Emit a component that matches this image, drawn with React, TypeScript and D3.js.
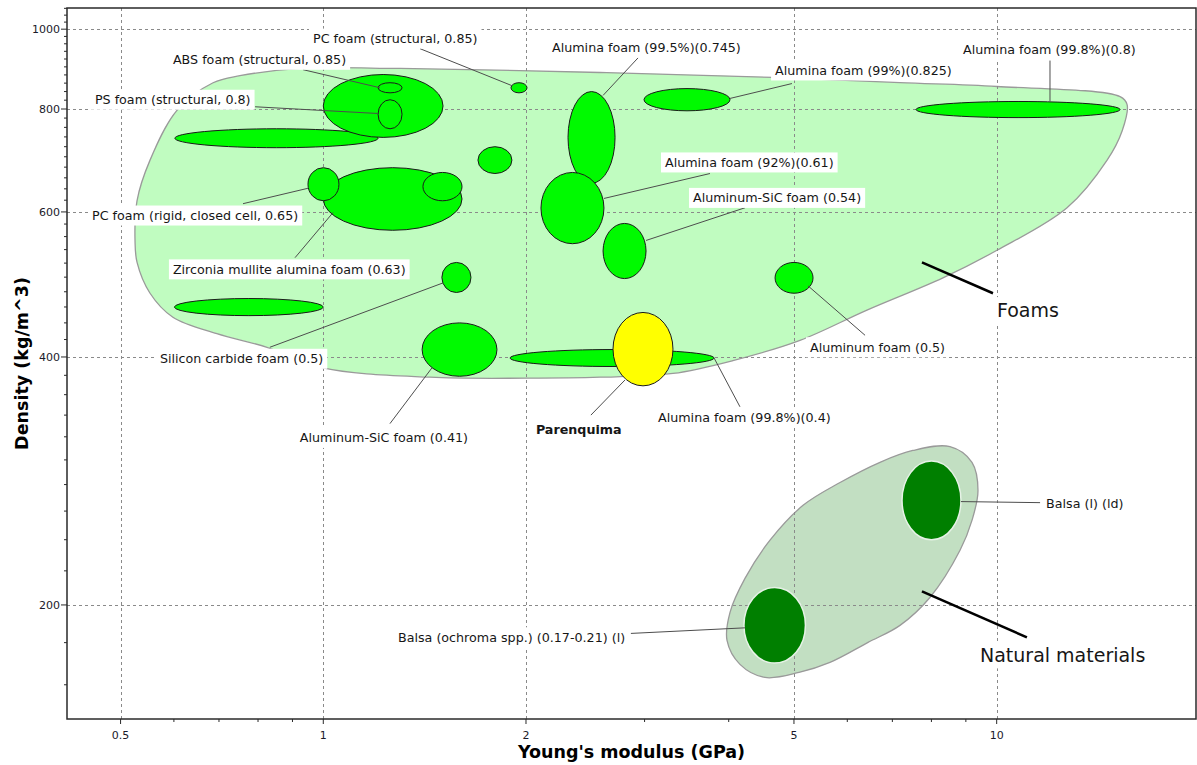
import React, { useEffect, useRef } from 'react';
import * as d3 from 'd3';

// ---------- Data (Young's modulus in GPa, density in kg/m^3) ----------
const materials = [
  'Foam (unlabelled A)',
  'Foam (unlabelled B)',
  'ABS foam (structural, 0.85)',
  'PS foam (structural, 0.8)',
  'PC foam (structural, 0.85)',
  'Zirconia mullite alumina foam (0.63)',
  'PC foam (rigid, closed cell, 0.65)',
  'Foam (unlabelled C)',
  'Foam (unlabelled D)',
  'Alumina foam (99.5%)(0.745)',
  'Alumina foam (92%)(0.61)',
  'Aluminum-SiC foam (0.54)',
  'Alumina foam (99%)(0.825)',
  'Alumina foam (99.8%)(0.8)',
  'Aluminum foam (0.5)',
  'Silicon carbide foam (0.5)',
  'Foam (unlabelled E)',
  'Aluminum-SiC foam (0.41)',
  'Alumina foam (99.8%)(0.4)',
  'Parenquima',
  'Balsa (l) (ld)',
  'Balsa (ochroma spp.) (0.17-0.21) (l)',
];
const modulusLow = [0.602, 1.0, 1.206, 1.206, 1.9, 1.0, 0.949, 1.406, 1.697, 2.309, 2.105, 2.603, 2.994, 7.59, 4.687, 1.5, 0.601, 1.402, 1.894, 2.693, 7.235, 4.214];
const modulusHigh = [1.206, 1.506, 1.309, 1.309, 2.007, 1.607, 1.055, 1.607, 1.906, 2.712, 2.611, 3.015, 4.018, 15.25, 5.337, 1.657, 1.0, 1.811, 3.804, 3.306, 8.85, 5.2];
const densityLow = [718, 739, 837, 757, 837, 570, 619, 619, 668, 650, 549, 498, 796, 781, 478, 479, 449, 379, 389.5, 369, 240, 170];
const densityHigh = [757, 881, 861, 821, 861, 679, 679, 670, 720, 840, 670, 581, 847, 817, 521, 521, 471, 440, 408.4, 453, 299, 210];
const family = ['foam', 'foam', 'foam', 'foam', 'foam', 'foam', 'foam', 'foam', 'foam', 'foam', 'foam', 'foam', 'foam', 'foam', 'foam', 'foam', 'foam', 'foam', 'foam', 'parenchyma', 'natural', 'natural'];

// Envelope outlines (E, rho)
const foamEnvelopeE = [0.5253, 0.5289, 0.5528, 0.6063, 0.686, 0.7519, 0.9235, 1.3, 2.576, 4.654, 7.185, 10.01, 15.25, 15.62, 15.36, 14.58, 12.72, 10.01, 8.321, 6.418, 5.104, 4.058, 3.306, 2.576, 2.007, 1.44, 0.999, 0.825, 0.695, 0.598, 0.553, 0.529];
const foamEnvelopeRho = [554, 619, 693, 797, 861, 878, 896, 896, 886, 874, 861, 852, 828, 810, 753, 693, 607, 539, 499, 456, 419, 396, 382, 378, 377, 378, 388, 411, 427, 447, 478, 521];
const naturalEnvelopeE = [7.508, 8.524, 9.19, 9.381, 9.19, 8.822, 7.959, 7.185, 6.441, 5.655, 5.087, 4.529, 4.157, 3.977, 4.018, 4.229, 4.607, 5.158, 5.853, 6.71];
const naturalEnvelopeRho = [308, 311.4, 298, 275.4, 253.3, 233, 204.2, 188.9, 180.1, 170.3, 165.6, 163.3, 169.4, 181.1, 195.9, 215.4, 239.7, 264.2, 281.6, 298];

// Material labels: text anchor (left, middle) and leader line (from label to ellipse)
const labelText = [
  'PC foam (structural, 0.85)', 'ABS foam (structural, 0.85)', 'PS foam (structural, 0.8)',
  'PC foam (rigid, closed cell, 0.65)', 'Zirconia mullite alumina foam (0.63)', 'Silicon carbide foam (0.5)',
  'Aluminum-SiC foam (0.41)', 'Parenquima', 'Alumina foam (99.8%)(0.4)', 'Aluminum foam (0.5)',
  'Balsa (l) (ld)', 'Balsa (ochroma spp.) (0.17-0.21) (l)', 'Alumina foam (99.5%)(0.745)',
  'Alumina foam (92%)(0.61)', 'Aluminum-SiC foam (0.54)', 'Alumina foam (99%)(0.825)', 'Alumina foam (99.8%)(0.8)',
];
const labelBold = [false, false, false, false, false, false, false, true, false, false, false, false, false, false, false, false, false];
const labelE = [0.9654, 0.598, 0.458, 0.4535, 0.598, 0.572, 0.923, 2.069, 3.141, 5.281, 11.84, 1.291, 2.186, 3.217, 3.54, 4.687, 8.913];
const labelRho = [974, 918, 821, 594, 511, 398, 319, 327, 338, 411, 265.6, 182.7, 950, 689, 624, 891, 944];
const leaderFromE = [1.392, 0.933, 0.792, 0.76, 0.908, 0.833, 1.256, 2.497, 4.157, 6.376, 11.6, 2.863, 2.934, 3.752, 4.229, 4.966, 12.0];
const leaderFromRho = [947, 893, 805, 614, 528, 411, 332, 340, 348, 425, 266.2, 184.7, 923, 668, 607, 859, 916];
const leaderToE = [1.906, 1.214, 1.206, 0.949, 1.034, 1.506, 1.45, 2.805, 3.804, 5.246, 8.85, 4.229, 2.603, 2.611, 3.015, 4.018, 12.0];
const leaderToRho = [854, 849, 790, 641, 599, 492, 388, 375, 399, 488, 267, 187.6, 831, 623, 554, 824, 817];

// Family labels
const familyText = ['Foams', 'Natural materials'];
const familyLabelE = [10.01, 9.445];
const familyLabelRho = [456, 173.7];
const familyLineFromE = [7.745, 7.745];
const familyLineFromRho = [521, 207.7];
const familyLineToE = [9.874, 11.09];
const familyLineToRho = [478, 182.7];

// Axes
const xDomain = [0.4163, 19.77];
const yDomain = [145.4, 1061];
const xMajorTicks = [0.5, 1, 2, 5, 10];
const xMinorTicks = [0.6, 0.7, 0.8, 0.9, 3, 4, 6, 7, 8, 9];
const yMajorTicks = [200, 400, 600, 800, 1000];
const yMinorTicks = d3.range(160, 1061, 20).filter((v) => v % 200 !== 0);

const W = 1197;
const H = 765;
const PL = 67, PR = 1196, PT = 8, PB = 719;
const FONT = '"DejaVu Sans", Verdana, sans-serif';

export default function App() {
  const ref = useRef<SVGSVGElement>(null);

  useEffect(() => {
    const svg = d3.select(ref.current);
    svg.selectAll('*').remove();

    const x = d3.scaleLog().domain(xDomain).range([PL, PR]);
    const y = d3.scaleLog().domain(yDomain).range([PB, PT]);

    svg.append('rect').attr('width', W).attr('height', H).attr('fill', '#ffffff');

    svg.append('defs').append('clipPath').attr('id', 'plotclip')
      .append('rect').attr('x', PL).attr('y', PT).attr('width', PR - PL).attr('height', PB - PT);

    const plot = svg.append('g').attr('clip-path', 'url(#plotclip)');

    const envLine = d3.line<[number, number]>()
      .x((d) => x(d[0]))
      .y((d) => y(d[1]))
      .curve(d3.curveCatmullRomClosed.alpha(0.5));

    const foamPts = foamEnvelopeE.map((e, i) => [e, foamEnvelopeRho[i]] as [number, number]);
    const natPts = naturalEnvelopeE.map((e, i) => [e, naturalEnvelopeRho[i]] as [number, number]);

    plot.append('path').attr('d', envLine(foamPts)!)
      .attr('fill', '#c0fcc0').attr('stroke', '#9a9a9a').attr('stroke-width', 1.3);
    plot.append('path').attr('d', envLine(natPts)!)
      .attr('fill', '#c2dfc2').attr('stroke', '#9a9a9a').attr('stroke-width', 1.3);

    // grid
    const grid = plot.append('g').attr('stroke', '#8a8a8a').attr('stroke-width', 1).attr('stroke-dasharray', '3,3');
    xMajorTicks.forEach((t) => {
      grid.append('line').attr('x1', Math.round(x(t)) + 0.5).attr('x2', Math.round(x(t)) + 0.5).attr('y1', PT).attr('y2', PB);
    });
    yMajorTicks.forEach((t) => {
      grid.append('line').attr('y1', Math.round(y(t)) + 0.5).attr('y2', Math.round(y(t)) + 0.5).attr('x1', PL).attr('x2', PR);
    });

    // ellipses
    materials.forEach((_, i) => {
      const x0 = x(modulusLow[i]), x1 = x(modulusHigh[i]);
      const y0 = y(densityHigh[i]), y1 = y(densityLow[i]);
      const f = family[i];
      const fill = f === 'foam' ? '#00fa00' : f === 'parenchyma' ? '#ffff00' : '#007f00';
      const stroke = f === 'natural' ? '#e6f2e6' : '#1a1a1a';
      plot.append('ellipse')
        .attr('cx', (x0 + x1) / 2).attr('cy', (y0 + y1) / 2)
        .attr('rx', (x1 - x0) / 2).attr('ry', (y1 - y0) / 2)
        .attr('fill', fill).attr('stroke', stroke).attr('stroke-width', f === 'natural' ? 1.5 : 1);
    });

    // family lines
    familyText.forEach((_, i) => {
      plot.append('line')
        .attr('x1', x(familyLineFromE[i])).attr('y1', y(familyLineFromRho[i]))
        .attr('x2', x(familyLineToE[i])).attr('y2', y(familyLineToRho[i]))
        .attr('stroke', '#000').attr('stroke-width', 2.5);
    });

    // leader lines
    labelText.forEach((_, i) => {
      plot.append('line')
        .attr('x1', x(leaderFromE[i])).attr('y1', y(leaderFromRho[i]))
        .attr('x2', x(leaderToE[i])).attr('y2', y(leaderToRho[i]))
        .attr('stroke', '#4d4d4d').attr('stroke-width', 1);
    });

    // labels with white boxes
    const addLabel = (txt: string, lx: number, ly: number, size: number, bold: boolean, padX: number, boxH: number) => {
      const g = plot.append('g');
      const rect = g.append('rect').attr('fill', '#ffffff');
      const t = g.append('text')
        .attr('x', lx).attr('y', ly).attr('dy', '0.36em')
        .attr('font-family', FONT).attr('font-size', size)
        .attr('font-weight', bold ? 'bold' : 'normal')
        .attr('fill', '#161616')
        .text(txt);
      const w = (t.node() as SVGTextElement).getComputedTextLength();
      rect.attr('x', lx - padX).attr('y', ly - boxH / 2).attr('width', w + padX * 2).attr('height', boxH);
    };

    labelText.forEach((txt, i) => {
      addLabel(txt, x(labelE[i]), y(labelRho[i]), 12.7, labelBold[i], 4, 20);
    });
    familyText.forEach((txt, i) => {
      addLabel(txt, x(familyLabelE[i]), y(familyLabelRho[i]), 19, false, 3, 26);
    });

    // frame
    svg.append('rect').attr('x', PL).attr('y', PT).attr('width', PR - PL).attr('height', PB - PT)
      .attr('fill', 'none').attr('stroke', '#2a2a2a').attr('stroke-width', 1.5);

    // ticks
    const ticks = svg.append('g').attr('stroke', '#2a2a2a').attr('stroke-width', 1);
    xMajorTicks.forEach((t) => {
      ticks.append('line').attr('x1', x(t)).attr('x2', x(t)).attr('y1', PB).attr('y2', PB + 5);
    });
    xMinorTicks.forEach((t) => {
      ticks.append('line').attr('x1', x(t)).attr('x2', x(t)).attr('y1', PB).attr('y2', PB + 3);
    });
    yMajorTicks.forEach((t) => {
      ticks.append('line').attr('y1', y(t)).attr('y2', y(t)).attr('x1', PL - 6).attr('x2', PL);
    });
    yMinorTicks.forEach((t) => {
      ticks.append('line').attr('y1', y(t)).attr('y2', y(t)).attr('x1', PL - 3).attr('x2', PL);
    });

    const fmt = (v: number) => String(v);
    xMajorTicks.forEach((t) => {
      svg.append('text').attr('x', x(t)).attr('y', PB + 16).attr('dy', '0.36em')
        .attr('text-anchor', 'middle').attr('font-family', FONT).attr('font-size', 11)
        .attr('fill', '#1a1a2a').text(fmt(t));
    });
    yMajorTicks.forEach((t) => {
      svg.append('text').attr('x', PL - 7).attr('y', y(t)).attr('dy', '0.36em')
        .attr('text-anchor', 'end').attr('font-family', FONT).attr('font-size', 11)
        .attr('fill', '#1a1a2a').text(fmt(t));
    });

    // axis titles
    svg.append('text').attr('x', (PL + PR) / 2).attr('y', 752).attr('dy', '0.36em')
      .attr('text-anchor', 'middle').attr('font-family', FONT).attr('font-size', 17.5)
      .attr('font-weight', 'bold').attr('fill', '#000').text("Young's modulus (GPa)");
    svg.append('text').attr('transform', `translate(22, ${(PT + PB) / 2}) rotate(-90)`).attr('dy', '0.36em')
      .attr('text-anchor', 'middle').attr('font-family', FONT).attr('font-size', 17.5)
      .attr('font-weight', 'bold').attr('fill', '#000').text('Density (kg/m^3)');
  }, []);

  return (
    <svg
      ref={ref}
      width={W}
      height={H}
      style={{ position: 'absolute', left: 0, top: 0, display: 'block' }}
    />
  );
}
